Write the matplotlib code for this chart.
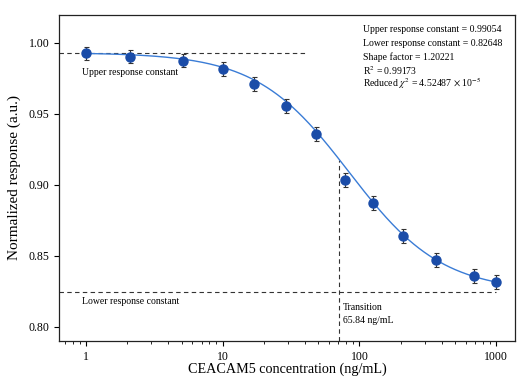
import numpy as np
import matplotlib
matplotlib.use("Agg")
import matplotlib.pyplot as plt

plt.rcParams['font.family'] = ['Liberation Serif', 'DejaVu Serif']
plt.rcParams['mathtext.fontset'] = 'stix'

# Data
conc = [1, 2.1, 5.1, 10, 17, 29, 48.4, 79, 126, 207, 365, 686, 1000]
resp = [0.9926, 0.9902, 0.9874, 0.9815, 0.9708, 0.9555, 0.9357, 0.9036,
        0.8869, 0.8638, 0.8469, 0.8357, 0.8315]
err = [0.0047, 0.0047, 0.0048, 0.0048, 0.0048, 0.0049, 0.0049, 0.0049,
       0.0050, 0.0050, 0.0050, 0.0050, 0.0050]

# Logistic fit curve parameters (as drawn)
fit_upper = 0.993
fit_lower = 0.8247
fit_x0 = 84.1
fit_p = 1.279

upper_line = 0.993
lower_line = 0.8247
transition_x = 71.4

annot_lines = [
    "Upper response constant = 0.99054",
    "Lower response constant = 0.82648",
    "Shape factor = 1.20221",
    r"R$^2$ = 0.99173",
    r"Reduced $\chi^2$ = 4.52487 $\times$ 10$^{-5}$",
]

def logistic(x):
    x = np.asarray(x, dtype=float)
    return fit_lower + (fit_upper - fit_lower) / (1 + (x / fit_x0) ** fit_p)

fig = plt.figure(figsize=(5.18, 3.78), dpi=100)
ax = fig.add_axes([59/518, 37/378, 456/518, 326/378])

xs = np.logspace(0, 3, 400)
ax.plot(xs, logistic(xs), color='#3a7cd6', lw=1.0, zorder=2)

ax.errorbar(conc, resp, yerr=err, fmt='o', color='#1a4ca8', ms=6.5,
            ecolor='#333333', elinewidth=0.8, capsize=1.8, capthick=0.8, zorder=3)

xmin, xmax = 0.634, 1375
ymin, ymax = 0.790, 1.0195
ax.set_xscale('log')
ax.set_xlim(xmin, xmax)
ax.set_ylim(ymin, ymax)

dash = (0, (4, 3))
ax.plot([xmin, 40], [upper_line, upper_line], color='#333333', lw=0.8, ls=dash, zorder=1)
ax.plot([xmin, 1000], [lower_line, lower_line], color='#333333', lw=0.8, ls=dash, zorder=1)
ax.plot([transition_x, transition_x], [ymin, logistic(transition_x)], color='#333333',
        lw=0.8, ls=dash, zorder=1)

ax.text(0.93, 0.979, "Upper response constant", fontsize=7, va='center', ha='left')
ax.text(0.93, 0.8175, "Lower response constant", fontsize=7, va='center', ha='left')
ax.text(76, 0.8088, "Transition\n65.84 ng/mL", fontsize=7, va='center', ha='left',
        linespacing=1.6)

for i, s in enumerate(annot_lines):
    fig.text(363/518, 1 - (30 + i*13.4)/378, s, fontsize=7, va='center', ha='left')

ax.set_xticks([1, 10, 100, 1000])
ax.set_xticklabels(['1', '10', '100', '1000'])
ax.set_yticks([0.80, 0.85, 0.90, 0.95, 1.00])
ax.set_yticklabels(['0.80', '0.85', '0.90', '0.95', '1.00'])
ax.tick_params(axis='both', which='major', direction='out', length=3.5, width=0.8,
               labelsize=8.5, top=False, right=False)
ax.tick_params(axis='x', which='minor', direction='out', length=2, width=0.6, top=False)
for sp in ax.spines.values():
    sp.set_linewidth(0.9)
    sp.set_color('#222222')

ax.set_xlabel("CEACAM5 concentration (ng/mL)", fontsize=10.2, labelpad=0)
ax.set_ylabel("Normalized response (a.u.)", fontsize=11, labelpad=5)

fig.savefig("out.png", dpi=100)
